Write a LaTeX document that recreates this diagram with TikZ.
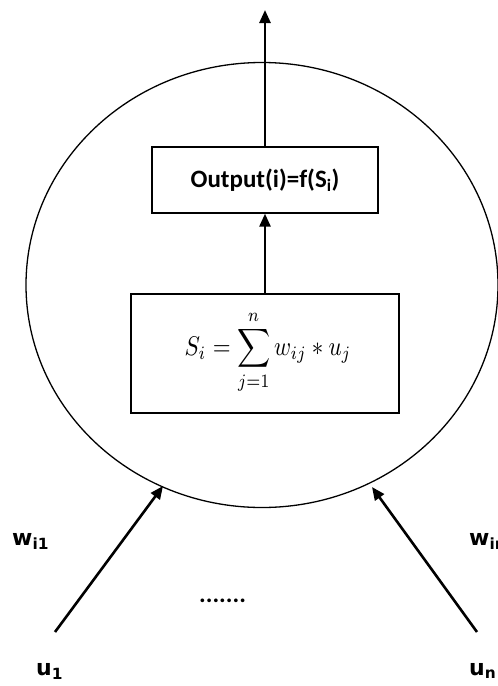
\documentclass[tikz,border=0pt]{standalone}
\usepackage{fontspec}
\usepackage{graphicx}
\usetikzlibrary{arrows.meta,shapes.geometric}
\newfontfamily\calib{Carlito}
\newfontfamily\verd{DejaVu Sans}
\begin{document}
\begin{tikzpicture}[x=1pt,y=-1pt,
  box/.style={draw, line width=1.3pt, rectangle, inner sep=0pt},
  arr/.style={line width=2.6pt, -{Triangle[length=13pt,width=11pt]}},
  lab/.style={font=\verd\bfseries\fontsize{22}{26}\selectfont, inner sep=0pt, anchor=base west}]
\useasboundingbox (0,0) rectangle (498,686);
\node[draw, ellipse, line width=1.3pt, minimum width=472pt, minimum height=445pt, inner sep=0pt] (cell) at (262,285) {};
\node[box, minimum width=268pt, minimum height=119pt] (sum) at (265,353.5) {};
\node[inner sep=0pt] (formula) at (268,352)
  {\scalebox{2.3}[2.7]{$\displaystyle S_i=\sum_{j=1}^{n} w_{ij}*u_j$}};
\node[box, minimum width=226pt, minimum height=66pt] (out) at (265,180)
  {\calib\bfseries\fontsize{25}{30}\selectfont Output(i)=f(S\textsubscript{i})};
\coordinate (top) at (265,10);
\draw[arr] (out.north) -- (top);
\draw[arr] (sum.north) -- (out.south);
\coordinate (u1s) at (55,632);
\coordinate (u1e) at (163,486);
\coordinate (uns) at (477,632);
\coordinate (une) at (372,487);
\draw[arr] (u1s) -- (u1e);
\draw[arr] (uns) -- (une);
\node[lab] (w1) at (12,545) {w\textsubscript{i1}};
\node[lab] (u1) at (36,675) {u\textsubscript{1}};
\node[lab] (wn) at (469,545) {w\textsubscript{in}};
\node[lab] (un) at (469,675) {u\textsubscript{n}};
\node[font=\calib\bfseries\fontsize{25}{30}\selectfont, inner sep=0pt, anchor=base west] (dots) at (199,602) {.......};
\end{tikzpicture}
\end{document}
